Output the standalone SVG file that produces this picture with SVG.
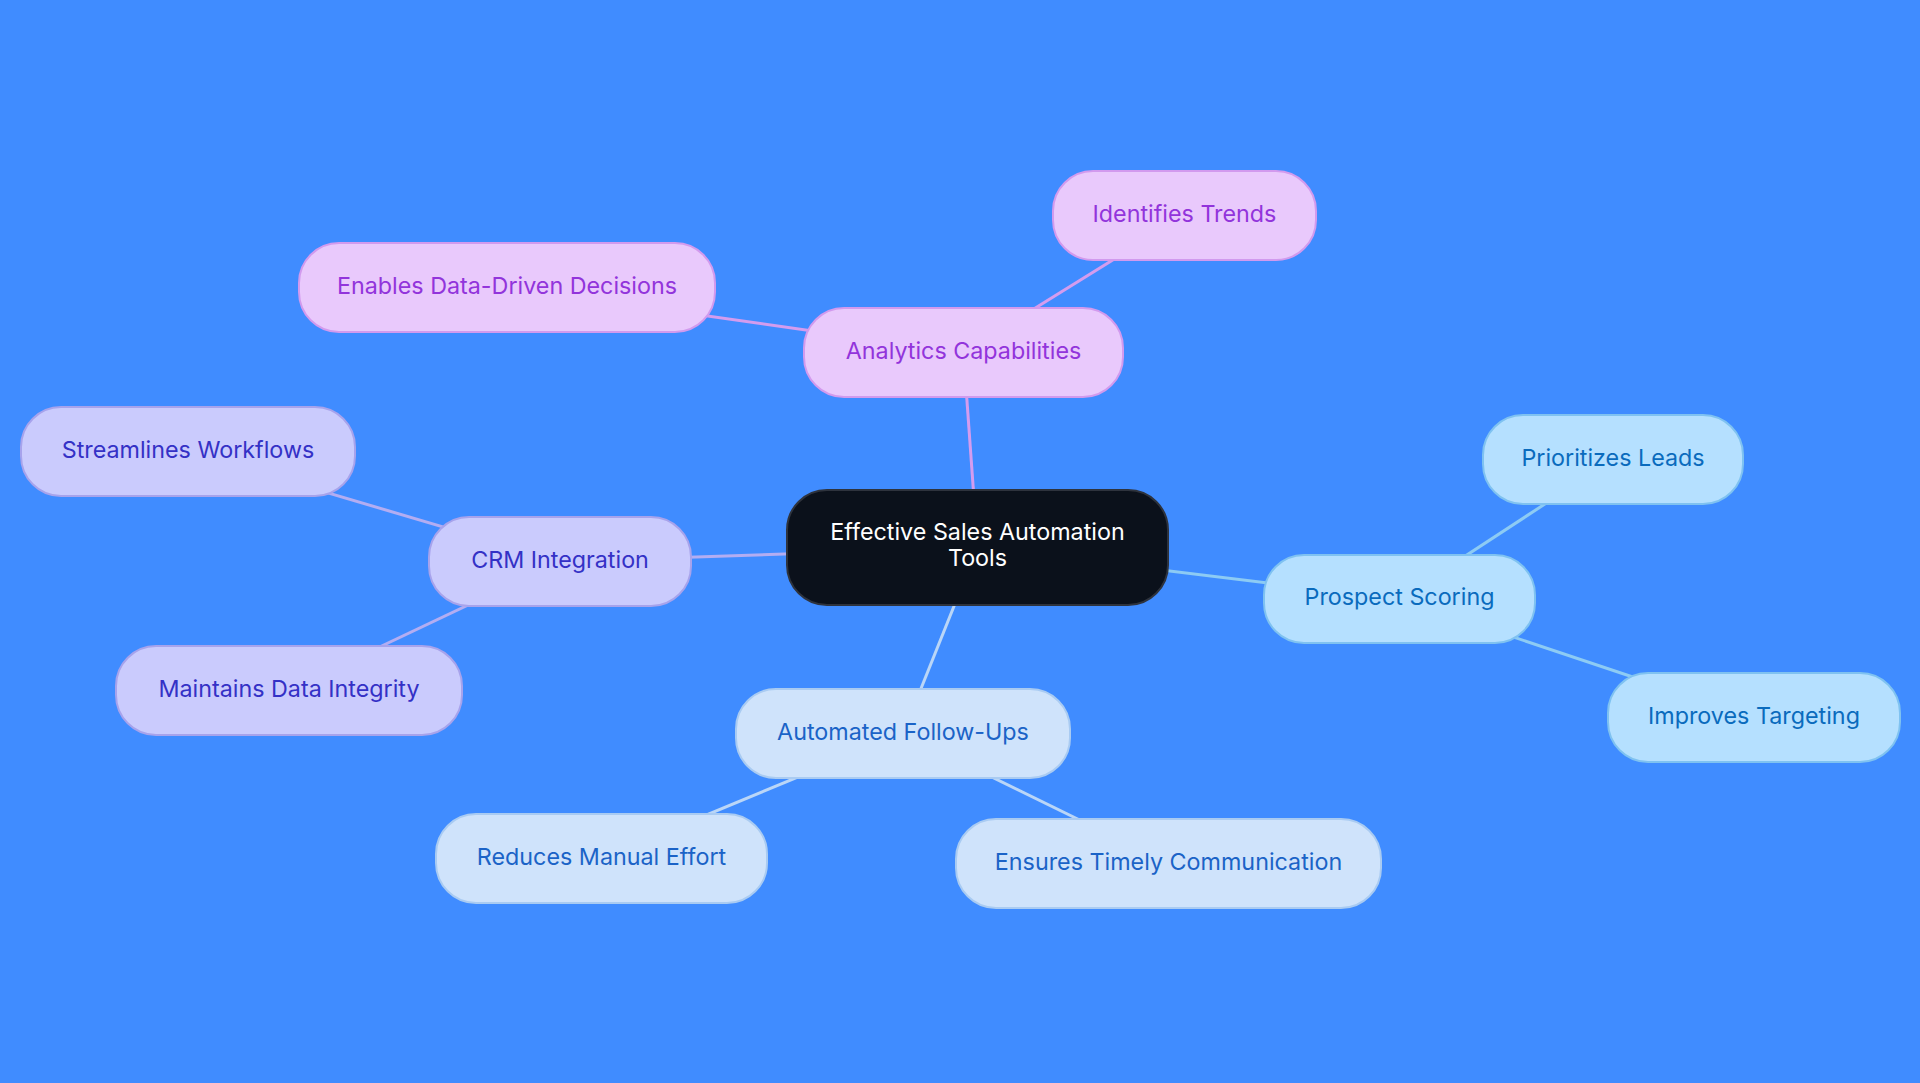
<svg xmlns="http://www.w3.org/2000/svg" width="1920" height="1083" viewBox="0 0 1920 1083">
<style>
text{font-family:Inter,"Liberation Sans",sans-serif;font-size:23.3px;text-anchor:middle}
.c line{stroke-width:3;fill:none}
.pa rect{fill:#E9C9FC;stroke:#D29AEE;stroke-width:2}
.pa text{fill:#9234DB}
.pc rect{fill:#CACBFD;stroke:#A7A3EC;stroke-width:2}
.pc text{fill:#3431C6}
.pf rect{fill:#CFE3FB;stroke:#A9CBF2;stroke-width:2}
.pf text{fill:#1B63C7}
.pp rect{fill:#B5E0FF;stroke:#7FC2F1;stroke-width:2}
.pp text{fill:#0A6BBD}
</style>
<rect width="1920" height="1083" fill="#408CFF"/>
<g id="connectors" class="c">
<line x1="977.5" y1="547.5" x2="963.5" y2="352.5" stroke="#D49CEE"/>
<line x1="963.5" y1="352.5" x2="1184.5" y2="215.5" stroke="#D49CEE"/>
<line x1="963.5" y1="352.5" x2="507" y2="287.5" stroke="#D49CEE"/>
<line x1="977.5" y1="547.5" x2="560" y2="561.5" stroke="#B3ADF2"/>
<line x1="560" y1="561.5" x2="188" y2="451.5" stroke="#B3ADF2"/>
<line x1="560" y1="561.5" x2="289" y2="690" stroke="#B3ADF2"/>
<line x1="977.5" y1="547.5" x2="903" y2="733.5" stroke="#BAD6F7"/>
<line x1="903" y1="733.5" x2="601.5" y2="858.5" stroke="#BAD6F7"/>
<line x1="903" y1="733.5" x2="1168.5" y2="863.5" stroke="#BAD6F7"/>
<line x1="977.5" y1="547.5" x2="1399.5" y2="599" stroke="#8DCBF4"/>
<line x1="1399.5" y1="599" x2="1613" y2="459.5" stroke="#8DCBF4"/>
<line x1="1399.5" y1="599" x2="1754" y2="717.5" stroke="#8DCBF4"/>
</g>
<g id="root">
<rect x="787" y="490" width="381" height="115" rx="40" fill="#0B111B" stroke="#2E333D" stroke-width="2"/>
<text x="977.5" y="540" fill="#FFFFFF">Effective Sales Automation</text>
<text x="977.5" y="566" fill="#FFFFFF">Tools</text>
</g>
<g id="analytics" class="pa">
<rect x="804" y="308" width="319" height="89" rx="40"/>
<text x="963.5" y="359">Analytics Capabilities</text>
</g>
<g id="identifies" class="pa">
<rect x="1053" y="171" width="263" height="89" rx="40"/>
<text x="1184.5" y="222">Identifies Trends</text>
</g>
<g id="enables" class="pa">
<rect x="299" y="243" width="416" height="89" rx="40"/>
<text x="507" y="294">Enables Data-Driven Decisions</text>
</g>
<g id="crm" class="pc">
<rect x="429" y="517" width="262" height="89" rx="40"/>
<text x="560" y="568">CRM Integration</text>
</g>
<g id="streamlines" class="pc">
<rect x="21" y="407" width="334" height="89" rx="40"/>
<text x="188" y="458">Streamlines Workflows</text>
</g>
<g id="maintains" class="pc">
<rect x="116" y="646" width="346" height="89" rx="40"/>
<text x="289" y="697">Maintains Data Integrity</text>
</g>
<g id="followups" class="pf">
<rect x="736" y="689" width="334" height="89" rx="40"/>
<text x="903" y="740">Automated Follow-Ups</text>
</g>
<g id="reduces" class="pf">
<rect x="436" y="814" width="331" height="89" rx="40"/>
<text x="601.5" y="865">Reduces Manual Effort</text>
</g>
<g id="ensures" class="pf">
<rect x="956" y="819" width="425" height="89" rx="40"/>
<text x="1168.5" y="870">Ensures Timely Communication</text>
</g>
<g id="prospect" class="pp">
<rect x="1264" y="555" width="271" height="88" rx="40"/>
<text x="1399.5" y="605">Prospect Scoring</text>
</g>
<g id="prioritizes" class="pp">
<rect x="1483" y="415" width="260" height="89" rx="40"/>
<text x="1613" y="466">Prioritizes Leads</text>
</g>
<g id="improves" class="pp">
<rect x="1608" y="673" width="292" height="89" rx="40"/>
<text x="1754" y="724">Improves Targeting</text>
</g>
</svg>
